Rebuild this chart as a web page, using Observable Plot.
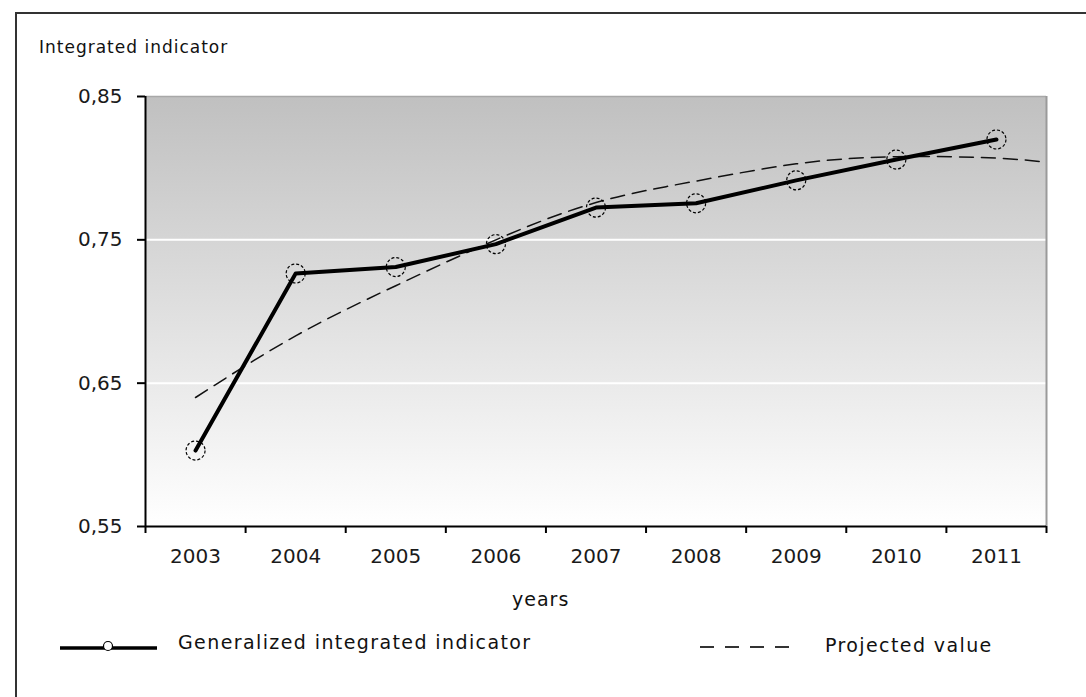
<!DOCTYPE html>
<html><head><meta charset="utf-8">
<script src="https://cdn.jsdelivr.net/npm/d3@7"></script>
<script src="https://cdn.jsdelivr.net/npm/@observablehq/plot@0.6"></script>
<style>
body{margin:0;background:#fff;overflow:hidden;}
#wrap{position:relative;width:1086px;height:697px;overflow:hidden;background:#fff;}
#border{position:absolute;left:15px;top:12px;width:1200px;height:800px;border-left:2px solid #333;border-top:2px solid #333;}
#chart{position:absolute;left:0;top:0;}
.lbl{position:absolute;font-family:"DejaVu Sans",sans-serif;color:#111;white-space:nowrap;}
#ylabel{left:39px;top:37px;font-size:17px;letter-spacing:1px;}
#xlabel{left:512px;top:588px;font-size:19px;letter-spacing:1px;}
#leg1t{left:178px;top:631px;font-size:19px;letter-spacing:1.4px;}
#leg2t{left:825px;top:634px;font-size:19px;letter-spacing:1.4px;}
#leg1s{position:absolute;left:55px;top:636px;}
#leg2s{position:absolute;left:695px;top:636px;}
</style>
</head><body>
<div id="wrap">
  <div id="border"></div>
  <div id="chart"></div>
  <div class="lbl" id="ylabel">Integrated indicator</div>
  <div class="lbl" id="xlabel">years</div>
  <svg id="leg1s" width="110" height="24"><line x1="5" y1="12" x2="102" y2="12" stroke="#000" stroke-width="3.5"/><circle cx="53" cy="10" r="4.5" fill="#fff" stroke="#000" stroke-width="1.2"/></svg>
  <div class="lbl" id="leg1t">Generalized integrated indicator</div>
  <svg id="leg2s" width="110" height="24"><line x1="5" y1="11" x2="103" y2="11" stroke="#333" stroke-width="2" stroke-dasharray="14,11"/></svg>
  <div class="lbl" id="leg2t">Projected value</div>
</div>
<script>
// Data
const years = [2003, 2004, 2005, 2006, 2007, 2008, 2009, 2010, 2011];
const actual = [0.603, 0.7265, 0.731, 0.747, 0.7725, 0.7755, 0.7915, 0.806, 0.820];
const projYears = [2003, 2004, 2005, 2006, 2007, 2008, 2009, 2010, 2011, 2011.5];
const projected = [0.640, 0.683, 0.718, 0.750, 0.776, 0.791, 0.803, 0.808, 0.807, 0.804];
const yTicks = [0.55, 0.65, 0.75, 0.85];
const gridTicks = [0.65, 0.75];

const actualData = years.map((x, i) => ({x, y: actual[i]}));
const projData = projYears.map((x, i) => ({x, y: projected[i]}));
const bandEdges = years.map(y => y - 0.5).concat([years[years.length - 1] + 0.5]);
const xDomain = [bandEdges[0], bandEdges[bandEdges.length - 1]];

const chart = Plot.plot({
  width: 1086,
  height: 620,
  marginLeft: 145,
  marginRight: 40,
  marginTop: 96,
  marginBottom: 94,
  x: {domain: xDomain, label: null},
  y: {domain: [yTicks[0], yTicks[yTicks.length - 1]], label: null},
  style: {fontFamily: "DejaVu Sans, sans-serif", fontSize: "20px", color: "#1a1a1a", background: "transparent"},
  marks: [
    Plot.frame({fill: "url(#bggrad)", stroke: null}),
    Plot.ruleY(gridTicks, {stroke: "#fff", strokeWidth: 2}),
    Plot.ruleY([yTicks[yTicks.length - 1]], {stroke: "#a8a8a8", strokeWidth: 1.5}),
    Plot.ruleX([xDomain[1]], {stroke: "#9a9a9a", strokeWidth: 2}),
    Plot.axisY({ticks: yTicks, tickSize: 8, tickPadding: 15, strokeWidth: 2, stroke: "#000",
      tickFormat: d => d.toFixed(2).replace(".", ","), label: null,
      style: {letterSpacing: "1.5px"}}),
    Plot.axisX({ticks: bandEdges, tickSize: 7, strokeWidth: 2, stroke: "#000", tickFormat: () => "", label: null}),
    Plot.axisX({ticks: years, tickSize: 0, tickPadding: 22, tickFormat: d => String(d), label: null,
      style: {letterSpacing: "2.2px"}}),
    Plot.ruleX([xDomain[0]], {stroke: "#000", strokeWidth: 2}),
    Plot.ruleY([yTicks[0]], {stroke: "#000", strokeWidth: 2}),
    Plot.line(projData, {x: "x", y: "y", curve: "natural", stroke: "#111", strokeWidth: 1.5, strokeDasharray: "14,8"}),
    Plot.line(actualData, {x: "x", y: "y", stroke: "#000", strokeWidth: 4}),
    Plot.dot(actualData, {x: "x", y: "y", r: 9.5, stroke: "#000", strokeWidth: 1.2, strokeDasharray: "3,2", fill: "none"})
  ]
});

const svg = d3.select(chart);
const defs = svg.insert("defs", ":first-child");
const grad = defs.append("linearGradient").attr("id", "bggrad")
  .attr("x1", 0).attr("y1", 0).attr("x2", 0).attr("y2", 1);
grad.append("stop").attr("offset", "0%").attr("stop-color", "#c0c0c0");
grad.append("stop").attr("offset", "100%").attr("stop-color", "#ffffff");

document.getElementById("chart").appendChild(chart);
</script>
</body></html>
